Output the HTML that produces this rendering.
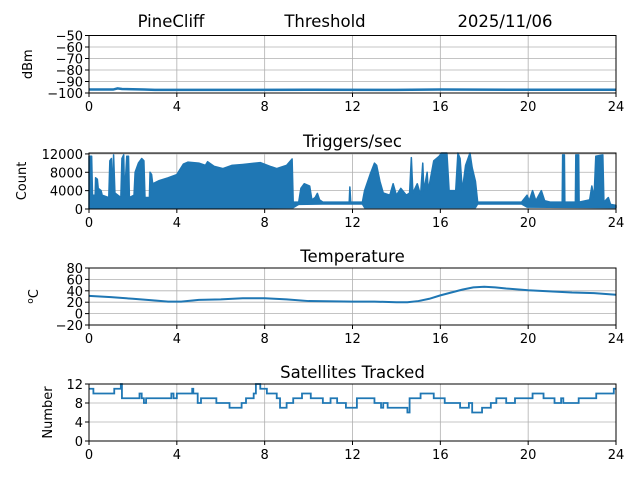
<!DOCTYPE html>
<html><head><meta charset="utf-8"><style>
body{margin:0;background:#fff}
svg{display:block;font-family:"DejaVu Sans","Liberation Sans",sans-serif}
</style></head><body>
<svg id="fig" width="640" height="480" viewBox="0 0 640 480"></svg>
<script>
// ---- data ----
const hourTicks=[0,4,8,12,16,20,24];
const sigTicks=[-50,-60,-70,-80,-90,-100];
const trigTicks=[0,4000,8000,12000];
const tempTicks=[-20,0,20,40,60,80];
const satTicks=[0,4,8,12];
const sigTimes=[0,1.1,1.3,1.5,2.5,3,6,10,14,16,20,24];
const sigValues=[-97,-97,-96,-96.5,-97,-97.3,-97.3,-97.2,-97.3,-97,-97.2,-97.2];
const trigTimes=[0,0.12,0.16,0.28,0.3,0.38,0.42,0.55,0.6,0.9,0.95,1.02,1.06,1.12,1.18,1.45,1.5,1.58,1.62,1.72,1.8,1.84,2.05,2.1,2.25,2.4,2.5,2.55,2.75,2.78,2.85,2.9,3.2,3.6,4.0,4.3,4.5,5.0,5.3,5.4,5.7,6.1,6.5,7.0,7.8,8.3,8.55,9.0,9.25,9.3,9.55,9.65,9.8,10.05,10.15,10.3,10.4,10.5,10.65,11.85,11.88,11.92,12.45,12.55,12.8,13.0,13.1,13.25,13.4,13.7,13.85,14.0,14.2,14.45,14.6,14.68,14.75,14.95,15.1,15.2,15.25,15.4,15.45,15.7,15.95,16.05,16.3,16.4,16.7,16.8,16.9,17.0,17.15,17.35,17.45,17.6,17.7,19.7,19.95,20.05,20.2,20.35,20.6,20.75,21.0,21.55,21.57,21.65,21.67,22.15,22.17,22.3,22.32,22.8,22.9,23.0,23.08,23.4,23.45,23.65,23.75,24];
const trigHigh=[11500,11500,3000,3000,6800,6500,4500,4000,3000,2500,10500,11000,3000,11800,3500,2500,11000,11800,3000,11500,11500,2500,3000,8000,10000,11000,10500,2500,2500,8000,7500,5500,6200,6800,7500,9800,10200,10000,9500,10300,9300,8800,9500,9700,10100,9200,8800,9500,10900,1500,1500,4500,5500,5000,2000,2500,3400,2000,1500,1500,4800,1500,1500,4000,7500,10000,9500,6000,3500,3000,5500,3000,4500,3000,3500,11200,3500,5500,3000,10000,4000,8000,4000,10500,11500,12200,12200,4000,4000,12200,11000,4000,9500,12200,9000,6000,1500,1500,3000,1800,4000,1800,4000,1800,1500,1500,11800,11800,1500,1500,11800,11800,1500,2000,5000,2500,11500,11800,1500,2500,1000,800];
const trigLowTimes=[0,9.3,9.55,10.65,12.45,12.55,17.6,17.7,19.7,19.95,24];
const trigLowValues=[200,300,1000,1100,1100,300,300,1100,1100,400,300];
const tempTimes=[0,1,2,3,3.6,4.2,5,6,7,8,9,10,12,13,14,14.5,15,15.5,16,16.5,17,17.5,18,18.5,19,20,21,22,23,24];
const tempValues=[31,29,26,23,21,21,24,25,27,27,25,22,21,21,20,20,22,26,32,37,42,46,47,46,44,41,39,37,36,33];
const satTimes=[0,0.2,1.15,1.45,1.5,1.55,1.6,2.3,2.4,2.5,2.6,2.65,3.75,3.85,4.0,4.7,4.75,4.95,5.1,5.2,5.8,6.4,6.95,7.15,7.5,7.6,7.8,8.1,8.55,8.7,9.0,9.3,9.7,10.1,10.65,11.0,11.3,11.7,12.2,13.0,13.3,13.4,13.6,14.0,14.5,14.6,15.1,15.7,16.2,16.9,17.3,17.45,17.9,18.3,18.55,19.0,19.4,20.2,20.7,21.2,21.5,21.6,22.3,23.1,23.9,24];
const satValues=[11,10,11,12,9,9,9,10,9,8,9,9,10,9,10,11,10,8,9,9,8,7,8,9,10,12,11,10,9,7,8,9,10,9,8,9,8,7,9,8,7,8,7,7,6,9,10,9,8,7,8,6,7,8,9,8,9,10,9,8,9,8,9,10,11,11];

const NS='http://www.w3.org/2000/svg';
const fig=document.getElementById('fig');
function mk(tag,attrs,parent){const e=document.createElementNS(NS,tag);for(const k in attrs)e.setAttribute(k,attrs[k]);(parent||fig).appendChild(e);return e;}
const X0=89,X1=616;
function xs(t){return X0+(t/24)*(X1-X0);}

function panel(name,top,bot,ymin,ymax,yticks,ylabel,title,labelFmt){
  const g=mk('g',{});
  
  
  const ys=v=>bot-(v-ymin)/(ymax-ymin)*(bot-top);
  hourTicks.forEach(h=>{const l=mk('line',{x1:xs(h),x2:xs(h),y1:top,y2:bot,stroke:'#b0b0b0','stroke-width':0.8},g);
    });
  yticks.forEach(v=>{const l=mk('line',{x1:X0,x2:X1,y1:ys(v),y2:ys(v),stroke:'#b0b0b0','stroke-width':0.8},g);
    });
  return {g,ys,top,bot,finish(){
    const r=mk('rect',{x:X0,y:top,width:X1-X0,height:bot-top,fill:'none',stroke:'#000','stroke-width':1},g);
    
    hourTicks.forEach(h=>{mk('line',{x1:xs(h),x2:xs(h),y1:bot,y2:bot+4,stroke:'#000'},g);
      const t=mk('text',{x:xs(h),y:bot+18,'font-size':13,'text-anchor':'middle'},g);t.textContent=h;
      });
    yticks.forEach(v=>{mk('line',{x1:X0-4,x2:X0,y1:ys(v),y2:ys(v),stroke:'#000'},g);
      const t=mk('text',{x:X0-6,y:ys(v)+5,'font-size':13,'text-anchor':'end'},g);t.textContent=labelFmt(v);
      });
    const yl=mk('text',{x:0,y:0,'font-size':13,'text-anchor':'middle',transform:`translate(${ylabel[1]},${(top+bot)/2}) rotate(-90)`},g);
    yl.innerHTML=ylabel[0];
    if(title){const tt=mk('text',{x:(X0+X1)/2,y:top-6,'font-size':16.5,'text-anchor':'middle'},g);tt.textContent=title;
      }
  }};
}
const minus=v=>v<0?'\u2212'+Math.abs(v):''+v;

// panel 1 signal
const p1=panel('signal',35.5,93,-100,-50,sigTicks,['dBm',32],null,minus);
let d='';sigTimes.forEach((t,i)=>{d+=(i?'L':'M')+xs(t)+','+p1.ys(sigValues[i]);});
const s1=mk('path',{d,fill:'none',stroke:'#1f77b4','stroke-width':2.5},p1.g);

p1.finish();
[['PineCliff',171],['Threshold',325],['2025/11/06',505]].forEach(([s,x])=>{
  const t=mk('text',{x,y:27,'font-size':16.5,'text-anchor':'middle'});t.textContent=s;
  });

// panel 2 triggers
const p2=panel('triggers',153,209,0,12200,trigTicks,['Count',26],'Triggers/sec',v=>''+v);
d='';trigTimes.forEach((t,i)=>{d+=(i?'L':'M')+xs(t)+','+p2.ys(trigHigh[i]);});
for(let i=trigLowTimes.length-1;i>=0;i--)d+='L'+xs(trigLowTimes[i])+','+p2.ys(trigLowValues[i]);
const s2=mk('path',{d:d+'Z',fill:'#1f77b4',stroke:'#1f77b4','stroke-width':1.5,'stroke-linejoin':'round'},p2.g);

p2.finish();

// panel 3 temp
const p3=panel('temperature',268,325,-20,80,tempTicks,['<tspan font-size="9" dy="-5">o</tspan><tspan dy="5">C</tspan>',38],'Temperature',minus);
d='';tempTimes.forEach((t,i)=>{d+=(i?'L':'M')+xs(t)+','+p3.ys(tempValues[i]);});
const s3=mk('path',{d,fill:'none',stroke:'#1f77b4','stroke-width':2},p3.g);

p3.finish();

// panel 4 sats
const p4=panel('satellites',384,441,0,12,satTicks,['Number',52],'Satellites Tracked',v=>''+v);
d='';satTimes.forEach((t,i)=>{const y=p4.ys(satValues[i]);
  if(i===0)d+='M'+xs(t)+','+y;else d+='L'+xs(t)+','+p4.ys(satValues[i-1])+'L'+xs(t)+','+y;});
d+='L'+xs(24)+','+p4.ys(satValues[satValues.length-1]);
const s4=mk('path',{d,fill:'none',stroke:'#1f77b4','stroke-width':1.8},p4.g);

p4.finish();
</script>
</body></html>
